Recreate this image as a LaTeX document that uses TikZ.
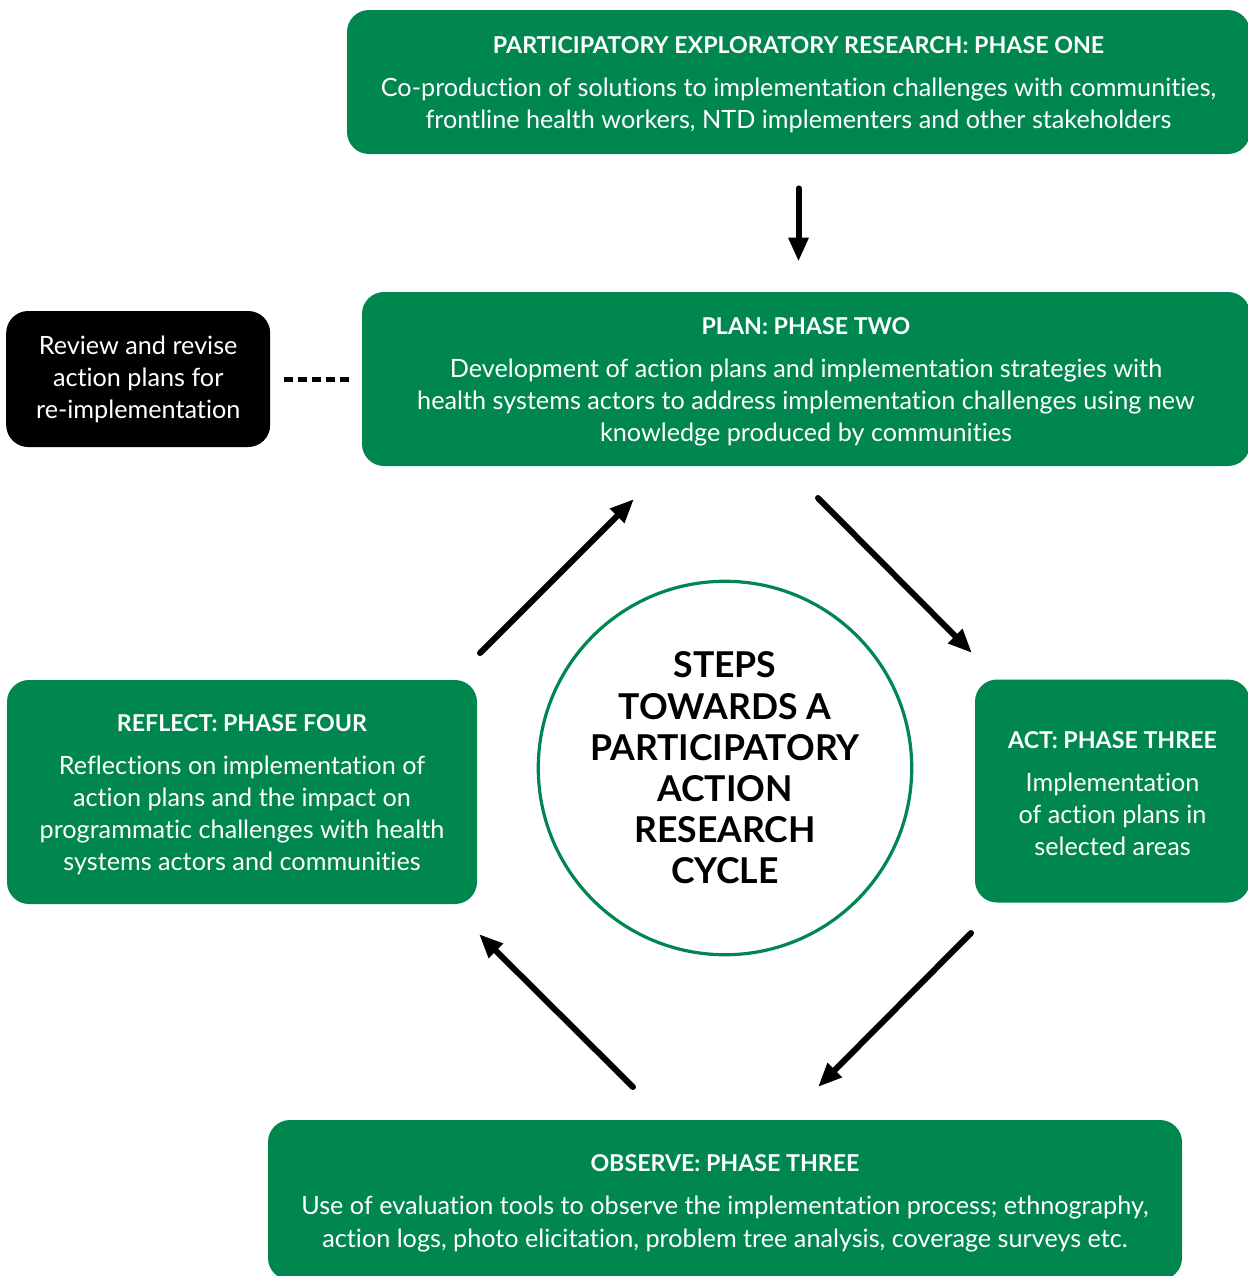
\documentclass[tikz,border=0pt]{standalone}
\usepackage{fontspec}
\setmainfont{Lato}[Ligatures=NoCommon,Contextuals=NoAlternate]
\usetikzlibrary{arrows.meta,positioning}
\definecolor{phasegreen}{HTML}{00874F}
\newcommand{\phasetitle}[1]{\rule{0pt}{11.5pt}{\bfseries\fontsize{11.6}{16}\selectfont #1}}

\begin{document}
\begin{tikzpicture}[x=0.5pt,y=-0.5pt,>={Triangle[length=12pt,width=9.5pt]},
	phase/.style={shape=rectangle,rounded corners=11pt,fill=phasegreen,text=white,align=center,inner sep=0pt,font=\fontsize{12.6}{16}\selectfont},
	review/.style={shape=rectangle,rounded corners=11pt,fill=black,text=white,align=center,inner sep=0pt,font=\fontsize{12.6}{16}\selectfont},
	flow/.style={->,line width=3pt,line cap=round},
	link/.style={line width=2.5pt,dash pattern=on 4.5pt off 2.5pt}]
					\useasboundingbox (0,0) rectangle (1248,1276);

					\node (explore) [phase,minimum width=451.5pt,minimum height=72pt] at (798.5,82) {
						\phasetitle{PARTICIPATORY EXPLORATORY RESEARCH: PHASE ONE}\\[5.5pt]
						Co-production of solutions to implementation challenges with communities,\\
						frontline health workers, NTD implementers and other stakeholders
					};
					\node (plan) [phase,minimum width=444pt,minimum height=87pt] at (806,379) {
						\phasetitle{PLAN: PHASE TWO}\\[5.5pt]
						Development of action plans and implementation strategies with\\
						health systems actors to address implementation challenges using new\\
						knowledge produced by communities
					};
					\node (revise) [review,minimum width=132pt,minimum height=68pt] [left=45.5pt of plan] {
						Review and revise\\
						action plans for\\
						re-implementation
					};
					\node (cycle) [circle,draw=phasegreen,line width=1.6pt,minimum size=185.5pt,align=center,font=\bfseries\fontsize{17.8}{20.6}\selectfont] at (725,768) {
						STEPS\\
						TOWARDS A\\
						PARTICIPATORY\\
						ACTION\\
						RESEARCH\\
						CYCLE
					};
					\node (act) [phase,minimum width=137.5pt,minimum height=111.5pt] at (1112.5,791) {
						\phasetitle{ACT: PHASE THREE}\\[5.5pt]
						Implementation\\
						of action plans in\\
						selected areas
					};
					\node (reflect) [phase,minimum width=235pt,minimum height=112pt] at (242,792) {
						\phasetitle{REFLECT: PHASE FOUR}\\[5.5pt]
						Reflections on implementation of\\
						action plans and the impact on\\
						programmatic challenges with health\\
						systems actors and communities
					};
					\node (observe) [phase,minimum width=457pt,minimum height=80pt] at (725,1200) {
						\phasetitle{OBSERVE: PHASE THREE}\\[5.5pt]
						Use of evaluation tools to observe the implementation process; ethnography,\\[0.5pt]
						action logs, photo elicitation, problem tree analysis, coverage surveys etc.
					};

					\coordinate (upright) at (480,653);
					\coordinate (upright end) at (634,499);
					\coordinate (downright) at (818,498);
					\coordinate (downright end) at (972,653);
					\coordinate (downleft) at (971,933);
					\coordinate (downleft end) at (818,1087);
					\coordinate (upleft) at (633,1087);
					\coordinate (upleft end) at (479,934);

					\draw[flow,shorten <=17pt,shorten >=15pt] (explore.south) -- (explore.south |- plan.north);
					\draw[link,shorten <=6.5pt,shorten >=5.5pt] (revise) -- (plan);
					\draw[flow] (upright) -- (upright end);
					\draw[flow] (downright) -- (downright end);
					\draw[flow] (downleft) -- (downleft end);
					\draw[flow] (upleft) -- (upleft end);
				\end{tikzpicture}
\end{document}
